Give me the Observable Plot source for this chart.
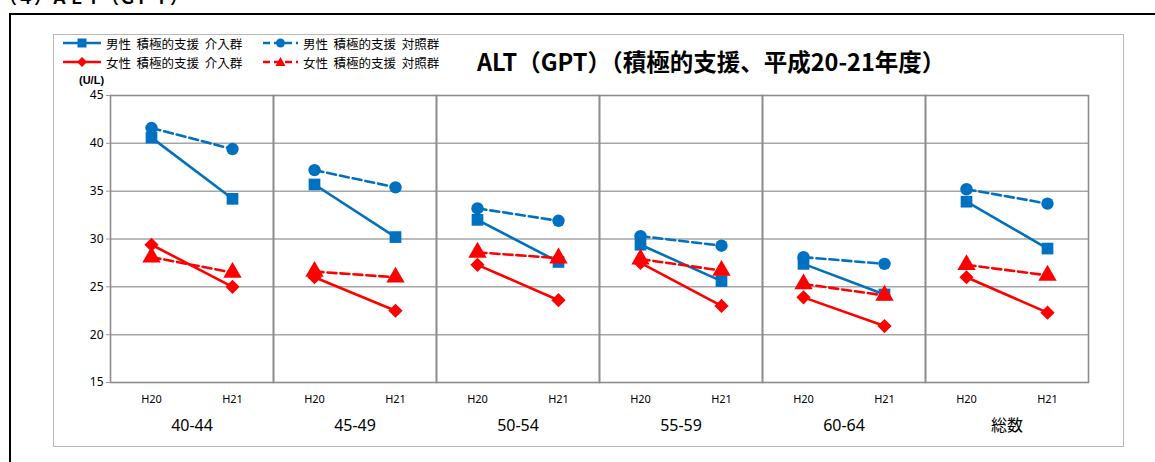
<!DOCTYPE html>
<html>
<head>
<meta charset="utf-8">
<script src="https://cdn.jsdelivr.net/npm/d3@7"></script>
<script src="https://cdn.jsdelivr.net/npm/@observablehq/plot@0.6"></script>
<style>
  html, body { margin: 0; padding: 0; background: #fff; }
  body { width: 1155px; height: 462px; position: relative; overflow: hidden; font-family: "Noto Sans CJK JP", "Noto Sans", sans-serif; color: #000; }
  .abs { position: absolute; }
  #blackbox { left: 9px; top: 13px; width: 1200px; height: 500px; border-left: 2px solid #000; border-top: 2px solid #000; box-sizing: border-box; }
  #cut { left: 0px; top: -15px; font-size: 17px; font-weight: bold; white-space: pre; line-height: 24px; }
  #frame { left: 53px; top: 34px; width: 1071px; height: 413px; border: 1px solid #b8b8b8; box-sizing: border-box; }
  #title { left: 477px; top: 45px; font-size: 23.5px; font-weight: bold; white-space: pre; line-height: 32px; }
  #unit { left: 79px; top: 74px; font-size: 11px; font-weight: bold; font-family: "Liberation Sans", sans-serif; }
  .leg { font-size: 12.5px; white-space: pre; display: flex; align-items: center; height: 16px; }
  .leg svg { margin-right: 5px; }
  #chart { left: 0; top: 80px; }
</style>
</head>
<body>
<div id="blackbox" class="abs"></div>
<div id="cut" class="abs">（４）ＡＬＴ（ＧＰＴ）</div>
<div id="frame" class="abs"></div>
<div id="legend" class="abs"></div>
<div id="title" class="abs"></div>
<div id="unit" class="abs">(U/L)</div>
<div id="chart" class="abs"></div>
<script>
// ---- data ----
const groups = ["40-44", "45-49", "50-54", "55-59", "60-64", "総数"];
const years = ["H20", "H21"];
const yTicks = [15, 20, 25, 30, 35, 40, 45];
const titleText = "ALT（GPT）（積極的支援、平成20-21年度）";
const unitLabel = "(U/L)";

const seriesNames = [
  "男性  積極的支援  介入群",
  "男性  積極的支援  対照群",
  "女性  積極的支援  介入群",
  "女性  積極的支援  対照群"
];
const maleInterventionH20 = [40.6, 35.7, 32.0, 29.4, 27.4, 33.9];
const maleInterventionH21 = [34.2, 30.2, 27.6, 25.6, 24.2, 29.0];
const maleControlH20 = [41.6, 37.2, 33.2, 30.3, 28.1, 35.2];
const maleControlH21 = [39.4, 35.4, 31.9, 29.3, 27.4, 33.7];
const femaleInterventionH20 = [29.4, 26.0, 27.3, 27.5, 23.9, 26.0];
const femaleInterventionH21 = [25.0, 22.5, 23.6, 23.0, 20.9, 22.3];
const femaleControlH20 = [28.1, 26.6, 28.6, 27.9, 25.3, 27.3];
const femaleControlH21 = [26.5, 26.0, 28.0, 26.7, 24.1, 26.2];

// ---- styles ----
const BLUE = "#0070C0", RED = "#FF0000";
const styles = [
  {color: BLUE, dash: null, symbol: "square", r: 6.6},
  {color: BLUE, dash: "9,4", symbol: "circle", r: 6.2},
  {color: RED, dash: null, symbol: "diamond2", r: 6.4},
  {color: RED, dash: "9,4", symbol: "triangle", r: 6.8}
];
const seriesValues = [
  [maleInterventionH20, maleInterventionH21],
  [maleControlH20, maleControlH21],
  [femaleInterventionH20, femaleInterventionH21],
  [femaleControlH20, femaleControlH21]
];

const seriesRows = seriesValues.map((vals, s) => {
  const rows = [];
  groups.forEach((g, i) => {
    years.forEach((yr, j) => rows.push({series: seriesNames[s], group: g, year: yr, value: vals[j][i]}));
  });
  return rows;
});

// ---- title & legend ----
document.getElementById("title").textContent = titleText;
document.getElementById("unit").textContent = unitLabel;

const legend = document.getElementById("legend");
const legPos = [[63, 35], [263, 35], [63, 54], [263, 54]];
const symbolPath = {
  square: "M-4.5,-4.5h9v9h-9z",
  circle: "M4.5,0A4.5,4.5,0,1,1,-4.5,0A4.5,4.5,0,1,1,4.5,0z",
  diamond2: "M0,-5L5,0L0,5L-5,0z",
  triangle: "M0,-5L5,4L-5,4z"
};
seriesNames.forEach((name, s) => {
  const st = styles[s];
  const div = document.createElement("div");
  div.className = "leg abs";
  div.style.left = legPos[s][0] + "px";
  div.style.top = legPos[s][1] + "px";
  const w = s % 2 === 0 ? 38 : 35;
  div.innerHTML = `<svg width="${w}" height="12"><line x1="0" x2="${w}" y1="6" y2="6" stroke="${st.color}" stroke-width="2.5" ${st.dash ? `stroke-dasharray="7,4"` : ""}/><path transform="translate(${w/2},6)" d="${symbolPath[st.symbol]}" fill="${st.color}"/></svg><span>${name}</span>`;
  legend.appendChild(div);
});

// ---- chart ----
const marks = [
  Plot.gridY(yTicks.slice(1, -1), {stroke: "#a6a6a6", strokeOpacity: 1, strokeWidth: 1.5}),
  Plot.frame({stroke: "#8c8c8c", strokeWidth: 1.6}),
  Plot.axisY(yTicks, {tickSize: 4, tickPadding: 3, fontSize: 12, label: null, stroke: "#999"}),
  Plot.axisX({tickSize: 0, tickPadding: 13, fontSize: 11, label: null}),
  Plot.axisFx({anchor: "bottom", tickSize: 0, tickPadding: 37, fontSize: 16, label: null})
];
seriesRows.forEach((rows, s) => {
  const st = styles[s];
  marks.push(Plot.line(rows, {fx: "group", x: "year", y: "value", stroke: st.color, strokeWidth: 2.6, strokeDasharray: st.dash || undefined}));
});
seriesRows.forEach((rows, s) => {
  const st = styles[s];
  marks.push(Plot.dot(rows, {fx: "group", x: "year", y: "value", symbol: () => st.symbol, fill: st.color, r: st.r, stroke: "none"}));
});

const chart = Plot.plot({
  width: 1155,
  height: 382,
  marginLeft: 108,
  marginRight: 66,
  marginTop: 15,
  marginBottom: 80,
  style: {fontFamily: "'Noto Sans', 'Noto Sans CJK JP', sans-serif", color: "#000", background: "transparent", overflow: "visible"},
  fx: {domain: groups, padding: 0, label: null},
  x: {domain: years, type: "point", padding: 0.5, label: null},
  y: {domain: [15, 45], label: null},
  symbol: {type: "identity"},
  marks
});
document.getElementById("chart").appendChild(chart);
</script>
</body>
</html>
